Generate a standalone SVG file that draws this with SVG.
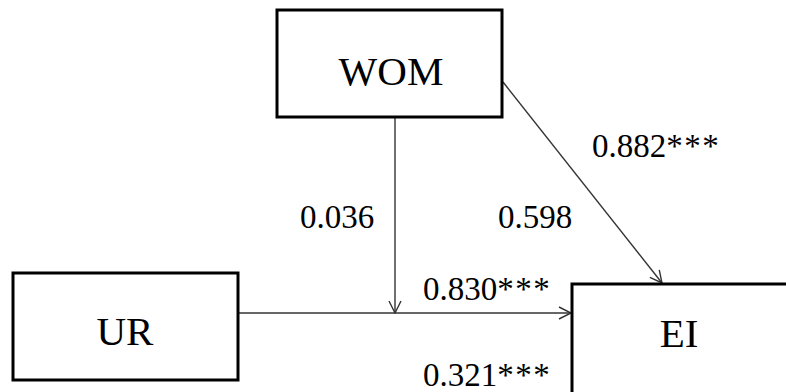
<svg xmlns="http://www.w3.org/2000/svg" width="786" height="392" viewBox="0 0 786 392">
  <style>
    .box { fill: #ffffff; stroke: #000000; stroke-width: 3; }
    .name { font-family: "Liberation Serif", "Times New Roman", serif; font-size: 41px; fill: #000000; text-anchor: middle; }
    .coef { font-family: "Liberation Serif", "Times New Roman", serif; font-size: 33px; fill: #000000; }
    .stars { letter-spacing: 1.5px; }
    .path { fill: none; stroke: #333333; stroke-width: 1.4; }
  </style>
  <defs>
    <marker id="arrow" viewBox="0 0 14 14" refX="13" refY="7" markerWidth="14" markerHeight="14" markerUnits="userSpaceOnUse" orient="auto">
      <path d="M1,1 L13,7 L1,13" fill="none" stroke="#333333" stroke-width="1.4"/>
    </marker>
  </defs>
  <rect width="786" height="392" fill="#ffffff"/>

  <g id="connectors">
    <line class="path" x1="238" y1="313" x2="571" y2="313" marker-end="url(#arrow)"/>
    <line class="path" x1="395" y1="117" x2="395" y2="313" marker-end="url(#arrow)"/>
    <line class="path" x1="503" y1="82" x2="662" y2="283" marker-end="url(#arrow)"/>
  </g>

  <g id="node-wom">
    <rect class="box" x="277" y="10" width="225" height="107"/>
    <text class="name" x="391" y="85">WOM</text>
  </g>

  <g id="node-ur">
    <rect class="box" x="13" y="273" width="225" height="107"/>
    <text class="name" x="125" y="345">UR</text>
  </g>

  <g id="node-ei">
    <rect class="box" x="572" y="284" width="230" height="120"/>
    <text class="name" x="679" y="347">EI</text>
  </g>

  <g id="labels">
    <text class="coef" x="592" y="157">0.882<tspan class="stars">***</tspan></text>
    <text class="coef" x="300" y="228">0.036</text>
    <text class="coef" x="498" y="228">0.598</text>
    <text class="coef" x="423" y="300">0.830<tspan class="stars">***</tspan></text>
    <text class="coef" x="423" y="386">0.321<tspan class="stars">***</tspan></text>
  </g>
</svg>
